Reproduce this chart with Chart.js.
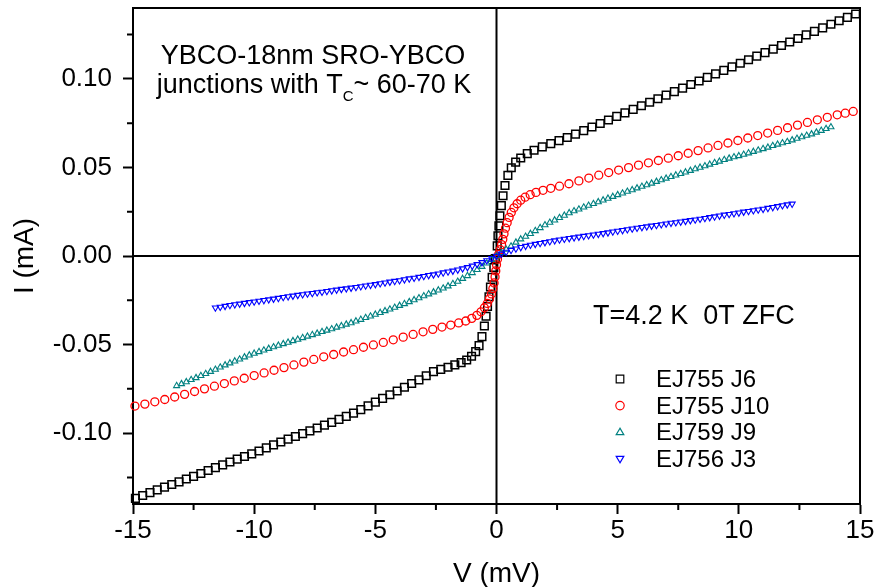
<!DOCTYPE html>
<html>
<head>
<meta charset="utf-8">
<title>I-V curves</title>
<script src="https://cdn.jsdelivr.net/npm/chart.js@4.4.1/dist/chart.umd.min.js"></script>
<style>
  html, body { margin: 0; padding: 0; background: #fff; }
  #wrap { width: 876px; height: 587px; }
</style>
</head>
<body>
<div id="wrap"><canvas id="ivChart" width="876" height="587"></canvas></div>
<script>
// series labels (legend order)
const seriesNames = ['EJ755 J6', 'EJ755 J10', 'EJ759 J9', 'EJ756 J3'];

// EJ755 J6 (black squares), V in mV, I in mA
const j6V = [-14.9, -14.6, -14.3, -14.0, -13.7, -13.4, -13.1, -12.8, -12.5, -12.2, -11.9, -11.6, -11.3, -11.0,
  -10.7, -10.4, -10.1, -9.8, -9.5, -9.2, -8.9, -8.6, -8.3, -8.0, -7.7, -7.4, -7.1, -6.8, -6.5, -6.2, -5.9,
  -5.6, -5.3, -5.0, -4.7, -4.4, -4.1, -3.8, -3.5, -3.2, -2.9, -2.6, -2.3, -2.0, -1.72, -1.46, -1.23, -1.03,
  -0.86, -0.72, -0.6, -0.5, -0.43, -0.37, -0.31, -0.25, -0.18, -0.11, -0.05,
  0.03, 0.06, 0.10, 0.14, 0.20, 0.27, 0.35, 0.47, 0.61, 0.79, 1.0, 1.27, 1.55, 1.89,
  2.24, 2.58, 2.92, 3.26, 3.60, 3.94, 4.28, 4.62, 4.96, 5.30, 5.64, 5.98, 6.32, 6.66, 7.00, 7.34, 7.68,
  8.02, 8.36, 8.70, 9.04, 9.38, 9.72, 10.06, 10.40, 10.74, 11.08, 11.42, 11.76, 12.10, 12.44, 12.78,
  13.12, 13.46, 13.80, 14.14, 14.48, 14.82];
const j6I = [-0.1368, -0.1352, -0.1336, -0.1320, -0.1305, -0.1290, -0.1275, -0.1259, -0.1244, -0.1228, -0.1211, -0.1195, -0.1179, -0.1163,
  -0.1147, -0.1132, -0.1117, -0.1101, -0.1083, -0.1066, -0.1050, -0.1034, -0.1019, -0.1003, -0.0987, -0.0971, -0.0955, -0.0939, -0.0922, -0.0905, -0.0887,
  -0.0867, -0.0846, -0.0825, -0.0804, -0.0783, -0.0762, -0.0741, -0.0720, -0.0699, -0.0676, -0.0653, -0.0640, -0.0628, -0.0615, -0.0602, -0.0587, -0.0566,
  -0.0540, -0.0506, -0.0455, -0.0395, -0.0340, -0.0285, -0.0230, -0.0175, -0.0120, -0.0065, -0.0015,
  0.0057, 0.0114, 0.0170, 0.0227, 0.0284, 0.0340, 0.0398, 0.0455, 0.0498, 0.0530, 0.0553, 0.0578, 0.0597, 0.0616,
  0.0634, 0.0651, 0.0669, 0.0688, 0.0708, 0.0728, 0.0748, 0.0768, 0.0788, 0.0808, 0.0828, 0.0848, 0.0868, 0.0888, 0.0908, 0.0928, 0.0948,
  0.0968, 0.0988, 0.1008, 0.1028, 0.1048, 0.1068, 0.1088, 0.1108, 0.1128, 0.1148, 0.1168, 0.1188, 0.1208, 0.1228, 0.1248,
  0.1268, 0.1288, 0.1308, 0.1328, 0.1347, 0.1366];

// EJ755 J10 (red circles)
const j10V = [-14.92, -14.51, -14.10, -13.69, -13.28, -12.87, -12.46, -12.05, -11.64, -11.23, -10.82, -10.41, -10.00,
  -9.59, -9.18, -8.77, -8.36, -7.95, -7.54, -7.13, -6.72, -6.31, -5.90, -5.49, -5.08, -4.67, -4.26, -3.85, -3.44,
  -3.03, -2.63, -2.25, -1.89, -1.56, -1.27, -1.02, -0.81, -0.64, -0.50, -0.38, -0.29, -0.21, -0.15, -0.10, -0.06,
  -0.03, 0.00, 0.04, 0.09, 0.15, 0.21, 0.26, 0.31, 0.37, 0.44, 0.52, 0.61, 0.72, 0.85, 1.00, 1.18, 1.39, 1.63,
  1.92, 2.24, 2.60, 2.99, 3.40, 3.81, 4.22, 4.63, 5.04, 5.45, 5.86, 6.27, 6.68, 7.09, 7.50, 7.91, 8.32, 8.73,
  9.14, 9.55, 9.96, 10.37, 10.78, 11.19, 11.60, 12.01, 12.42, 12.83, 13.24, 13.65, 14.06, 14.39, 14.72];
const j10I = [-0.0847, -0.0836, -0.0823, -0.0810, -0.0796, -0.0781, -0.0765, -0.0750, -0.0735, -0.0720, -0.0705, -0.0690, -0.0675,
  -0.0660, -0.0645, -0.0630, -0.0615, -0.0599, -0.0584, -0.0569, -0.0556, -0.0542, -0.0529, -0.0515, -0.0502, -0.0488, -0.0473, -0.0458, -0.0443,
  -0.0428, -0.0414, -0.0401, -0.0390, -0.0378, -0.0367, -0.0352, -0.0335, -0.0315, -0.0292, -0.0268, -0.0242, -0.0214, -0.0184, -0.0152, -0.0118,
  -0.0084, -0.0050, -0.0018, 0.0010, 0.0036, 0.0064, 0.0094, 0.0125, 0.0157, 0.0188, 0.0218, 0.0246, 0.0272, 0.0295, 0.0315, 0.0332, 0.0346, 0.0359,
  0.0371, 0.0382, 0.0394, 0.0408, 0.0424, 0.0440, 0.0456, 0.0471, 0.0485, 0.0499, 0.0513, 0.0526, 0.0539, 0.0552, 0.0566, 0.0580, 0.0595, 0.0610,
  0.0624, 0.0638, 0.0652, 0.0666, 0.0680, 0.0694, 0.0709, 0.0724, 0.0739, 0.0754, 0.0769, 0.0783, 0.0797, 0.0806, 0.0816];

// EJ759 J9 (teal triangles)
const j9V = [-13.2, -13.0, -12.8, -12.6, -12.4, -12.2, -12.0, -11.8, -11.6, -11.4, -11.2, -11.0, -10.8, -10.6, -10.4, -10.2,
  -10.0, -9.8, -9.6, -9.4, -9.2, -9.0, -8.8, -8.6, -8.4, -8.2, -8.0, -7.8, -7.6, -7.4, -7.2, -7.0, -6.8, -6.6, -6.4, -6.2,
  -6.0, -5.8, -5.6, -5.4, -5.2, -5.0, -4.8, -4.6, -4.4, -4.2, -4.0, -3.8, -3.6, -3.4, -3.2, -3.0, -2.8, -2.6, -2.4, -2.2,
  -2.0, -1.8, -1.6, -1.4, -1.2, -1.0, -0.8, -0.6, -0.4, -0.2, 0.0, 0.2, 0.4, 0.6, 0.8, 1.0, 1.2, 1.4, 1.6, 1.8,
  2.0, 2.2, 2.4, 2.6, 2.8, 3.0, 3.2, 3.4, 3.6, 3.8, 4.0, 4.2, 4.4, 4.6, 4.8, 5.0, 5.2, 5.4, 5.6, 5.8,
  6.0, 6.2, 6.4, 6.6, 6.8, 7.0, 7.2, 7.4, 7.6, 7.8, 8.0, 8.2, 8.4, 8.6, 8.8, 9.0, 9.2, 9.4, 9.6, 9.8,
  10.0, 10.2, 10.4, 10.6, 10.8, 11.0, 11.2, 11.4, 11.6, 11.8, 12.0, 12.2, 12.4, 12.6, 12.8, 13.0, 13.2, 13.4, 13.6, 13.8];
const j9I = [-0.0733, -0.0722, -0.0711, -0.0699, -0.0688, -0.0676, -0.0665, -0.0653, -0.0641, -0.0628, -0.0616, -0.0605, -0.0594, -0.0583, -0.0571, -0.0560,
  -0.0550, -0.0541, -0.0532, -0.0523, -0.0514, -0.0505, -0.0496, -0.0488, -0.0479, -0.0471, -0.0462, -0.0454, -0.0445, -0.0437, -0.0428, -0.0420, -0.0412, -0.0403, -0.0395, -0.0386,
  -0.0378, -0.0368, -0.0359, -0.0349, -0.0340, -0.0330, -0.0320, -0.0310, -0.0301, -0.0291, -0.0280, -0.0270, -0.0259, -0.0248, -0.0237, -0.0226, -0.0215, -0.0204, -0.0193, -0.0182,
  -0.0170, -0.0157, -0.0144, -0.0128, -0.0112, -0.0095, -0.0078, -0.0060, -0.0041, -0.0021, 0.0000, 0.0018, 0.0037, 0.0055, 0.0077, 0.0095, 0.0110, 0.0126, 0.0142, 0.0159,
  0.0175, 0.0189, 0.0202, 0.0216, 0.0229, 0.0243, 0.0254, 0.0264, 0.0275, 0.0285, 0.0295, 0.0305, 0.0315, 0.0325, 0.0335, 0.0345, 0.0354, 0.0364, 0.0373, 0.0383,
  0.0392, 0.0401, 0.0410, 0.0420, 0.0429, 0.0438, 0.0447, 0.0456, 0.0464, 0.0473, 0.0482, 0.0491, 0.0500, 0.0508, 0.0517, 0.0526, 0.0534, 0.0543, 0.0551, 0.0559,
  0.0565, 0.0573, 0.0581, 0.0589, 0.0597, 0.0605, 0.0613, 0.0622, 0.0630, 0.0638, 0.0645, 0.0654, 0.0663, 0.0672, 0.0680, 0.0688, 0.0698, 0.0708, 0.0718, 0.0728];

// EJ756 J3 (blue down-triangles)
const j3V = [-11.6, -11.4, -11.2, -11.0, -10.8, -10.6, -10.4, -10.2, -10.0, -9.8, -9.6, -9.4, -9.2, -9.0, -8.8, -8.6, -8.4, -8.2,
  -8.0, -7.8, -7.6, -7.4, -7.2, -7.0, -6.8, -6.6, -6.4, -6.2, -6.0, -5.8, -5.6, -5.4, -5.2, -5.0, -4.8, -4.6, -4.4, -4.2,
  -4.0, -3.8, -3.6, -3.4, -3.2, -3.0, -2.8, -2.6, -2.4, -2.2, -2.0, -1.8, -1.6, -1.4, -1.2, -1.0, -0.8, -0.6, -0.4, -0.2,
  0.0, 0.2, 0.4, 0.6, 0.8, 1.0, 1.2, 1.4, 1.6, 1.8, 2.0, 2.2, 2.4, 2.6, 2.8, 3.0, 3.2, 3.4, 3.6, 3.8,
  4.0, 4.2, 4.4, 4.6, 4.8, 5.0, 5.2, 5.4, 5.6, 5.8, 6.0, 6.2, 6.4, 6.6, 6.8, 7.0, 7.2, 7.4, 7.6, 7.8,
  8.0, 8.2, 8.4, 8.6, 8.8, 9.0, 9.2, 9.4, 9.6, 9.8, 10.0, 10.2, 10.4, 10.6, 10.8, 11.0, 11.2, 11.4, 11.6, 11.8, 12.0, 12.2];
const j3I = [-0.0292, -0.0288, -0.0283, -0.0278, -0.0274, -0.0270, -0.0266, -0.0262, -0.0258, -0.0254, -0.0250, -0.0246, -0.0242, -0.0238, -0.0233, -0.0229, -0.0225, -0.0221,
  -0.0217, -0.0213, -0.0210, -0.0206, -0.0203, -0.0199, -0.0195, -0.0191, -0.0187, -0.0184, -0.0180, -0.0176, -0.0172, -0.0168, -0.0164, -0.0160, -0.0155, -0.0151, -0.0146, -0.0142,
  -0.0138, -0.0133, -0.0128, -0.0124, -0.0119, -0.0114, -0.0109, -0.0105, -0.0100, -0.0094, -0.0089, -0.0084, -0.0078, -0.0071, -0.0064, -0.0056, -0.0047, -0.0036, -0.0025, -0.0013,
  0.0000, 0.0012, 0.0023, 0.0033, 0.0041, 0.0049, 0.0056, 0.0062, 0.0067, 0.0072, 0.0077, 0.0082, 0.0087, 0.0092, 0.0096, 0.0100, 0.0104, 0.0108, 0.0112, 0.0116,
  0.0120, 0.0124, 0.0128, 0.0132, 0.0137, 0.0141, 0.0145, 0.0150, 0.0154, 0.0158, 0.0162, 0.0166, 0.0170, 0.0174, 0.0178, 0.0182, 0.0186, 0.0189, 0.0193, 0.0197,
  0.0201, 0.0205, 0.0209, 0.0213, 0.0218, 0.0222, 0.0227, 0.0232, 0.0236, 0.0240, 0.0244, 0.0249, 0.0253, 0.0257, 0.0261, 0.0265, 0.0270, 0.0275, 0.0280, 0.0285, 0.0290, 0.0294];

// axis ticks
const xTicks = [-15, -12.5, -10, -7.5, -5, -2.5, 0, 2.5, 5, 7.5, 10, 12.5, 15];
const xMajor = [-15, -10, -5, 0, 5, 10, 15];
const yTicks = [-0.125, -0.1, -0.075, -0.05, -0.025, 0, 0.025, 0.05, 0.075, 0.1, 0.125];
const yMajor = [-0.1, -0.05, 0, 0.05, 0.1];

const FONT = '"Liberation Sans", Arial, Helvetica, sans-serif';
const isMajor = (v, list) => list.some(m => Math.abs(m - v) < 1e-9);
const toPoints = (vs, is) => vs.map((v, k) => ({ x: v, y: is[k] }));

const markers = [
  { color: '#000000', style: 'rect', radius: 5.4, width: 1.5, rot: 0 },
  { color: '#ff0000', style: 'circle', radius: 4, width: 1.3, rot: 0 },
  { color: '#008080', style: 'triangle', radius: 3.5, width: 1.1, rot: 0 },
  { color: '#0000ff', style: 'triangle', radius: 3.5, width: 1.1, rot: 180 },
];
const seriesData = [toPoints(j6V, j6I), toPoints(j10V, j10I), toPoints(j9V, j9I), toPoints(j3V, j3I)];
const drawOrder = [3, 2, 1, 0];

// frame, zero lines, minor ticks, texts and legend
const decor = {
  id: 'decor',
  beforeDatasetsDraw(chart) {
    const { ctx, chartArea: a, scales: { x, y } } = chart;
    const x0 = x.getPixelForValue(0), y0 = y.getPixelForValue(0);
    ctx.save();
    ctx.strokeStyle = '#000';
    ctx.lineWidth = 2;
    ctx.beginPath();
    ctx.moveTo(x0, a.top); ctx.lineTo(x0, a.bottom);
    ctx.moveTo(a.left, y0); ctx.lineTo(a.right, y0);
    ctx.moveTo(a.left, a.top); ctx.lineTo(a.right, a.top); ctx.lineTo(a.right, a.bottom);
    ctx.stroke();
    ctx.beginPath();
    xTicks.filter(v => !isMajor(v, xMajor)).forEach(v => {
      const px = x.getPixelForValue(v);
      ctx.moveTo(px, a.bottom); ctx.lineTo(px, a.bottom + 6);
    });
    yTicks.filter(v => !isMajor(v, yMajor)).forEach(v => {
      const py = y.getPixelForValue(v);
      ctx.moveTo(a.left, py); ctx.lineTo(a.left - 6, py);
    });
    ctx.stroke();
    ctx.restore();
  },
  afterDraw(chart) {
    const { ctx, chartArea: a } = chart;
    ctx.save();
    ctx.fillStyle = '#000';
    ctx.textBaseline = 'alphabetic';

    // sample description
    ctx.font = '27px ' + FONT;
    ctx.textAlign = 'center';
    ctx.fillText('YBCO-18nm SRO-YBCO', 313, 64);
    ctx.textAlign = 'left';
    const partA = 'junctions with T', partB = '~ 60-70 K';
    const wa = ctx.measureText(partA).width, wb = ctx.measureText(partB).width;
    ctx.font = '15px ' + FONT;
    const ws = ctx.measureText('C').width;
    let tx = 314 - (wa + ws + wb) / 2;
    ctx.font = '27px ' + FONT;
    ctx.fillText(partA, tx, 93);
    tx += wa;
    ctx.font = '15px ' + FONT;
    ctx.fillText('C', tx, 101);
    tx += ws;
    ctx.font = '27px ' + FONT;
    ctx.fillText(partB, tx, 93);

    ctx.fillText('T=4.2 K  0T ZFC', 593, 324);

    // legend
    ctx.font = '24px ' + FONT;
    seriesNames.forEach((name, k) => {
      const cy = 379 + k * 26.6;
      const m = markers[k];
      ctx.strokeStyle = m.color;
      ctx.lineWidth = 1.2;
      ctx.beginPath();
      if (m.style === 'rect') {
        ctx.rect(620 - 3.8, cy - 3.8, 7.6, 7.6);
      } else if (m.style === 'circle') {
        ctx.arc(620, cy, 4.2, 0, Math.PI * 2);
      } else {
        const dir = m.rot ? 1 : -1;
        ctx.moveTo(620, cy + dir * 4);
        ctx.lineTo(620 - 3.8, cy - dir * 2.4);
        ctx.lineTo(620 + 3.8, cy - dir * 2.4);
        ctx.closePath();
      }
      ctx.stroke();
      ctx.fillStyle = '#000';
      ctx.fillText(name, 656, cy + 8);
    });

    // axis titles
    ctx.font = '28px ' + FONT;
    ctx.textAlign = 'center';
    ctx.fillText('V (mV)', (a.left + a.right) / 2, 582);
    ctx.translate(33, (a.top + a.bottom) / 2);
    ctx.rotate(-Math.PI / 2);
    ctx.fillText('I (mA)', 0, 0);
    ctx.restore();
  }
};

const datasets = seriesNames.map((name, k) => ({
  label: name,
  data: seriesData[k],
  showLine: false,
  order: drawOrder[k],
  clip: false,
  pointStyle: markers[k].style,
  pointRotation: markers[k].rot,
  pointRadius: markers[k].radius,
  pointHoverRadius: markers[k].radius,
  pointBorderWidth: markers[k].width,
  pointBorderColor: markers[k].color,
  pointBackgroundColor: 'rgba(0,0,0,0)',
  borderColor: markers[k].color,
  backgroundColor: 'rgba(0,0,0,0)'
}));

new Chart(document.getElementById('ivChart'), {
  type: 'scatter',
  data: { datasets },
  options: {
    responsive: false,
    animation: false,
    events: [],
    layout: { padding: { top: 8, right: 16, left: 0, bottom: 0 } },
    plugins: { legend: { display: false }, tooltip: { enabled: false } },
    scales: {
      x: {
        type: 'linear',
        position: 'bottom',
        min: -15,
        max: 15,
        afterFit: s => { s.height = 83; s.paddingLeft = 0; s.paddingRight = 0; },
        afterBuildTicks: s => { s.ticks = xTicks.map(v => ({ value: v })); },
        border: { display: true, color: '#000', width: 2 },
        grid: {
          drawOnChartArea: false,
          drawTicks: true,
          tickLength: 10,
          tickWidth: 2,
          tickColor: c => (c.tick && isMajor(c.tick.value, xMajor)) ? '#000' : 'rgba(0,0,0,0)'
        },
        ticks: {
          color: '#000',
          font: { family: FONT, size: 26 },
          padding: 1,
          maxRotation: 0,
          autoSkip: false,
          callback: v => isMajor(v, xMajor) ? String(v) : ''
        }
      },
      y: {
        type: 'linear',
        min: -0.14,
        max: 0.14,
        afterFit: s => { s.width = 133; s.paddingTop = 0; s.paddingBottom = 0; },
        afterBuildTicks: s => { s.ticks = yTicks.map(v => ({ value: v })); },
        border: { display: true, color: '#000', width: 2 },
        grid: {
          drawOnChartArea: false,
          drawTicks: true,
          tickLength: 10,
          tickWidth: 2,
          tickColor: c => (c.tick && isMajor(c.tick.value, yMajor)) ? '#000' : 'rgba(0,0,0,0)'
        },
        ticks: {
          color: '#000',
          font: { family: FONT, size: 26 },
          padding: 11,
          autoSkip: false,
          callback: v => isMajor(v, yMajor) ? v.toFixed(2) : ''
        }
      }
    }
  },
  plugins: [decor]
});
</script>
</body>
</html>
